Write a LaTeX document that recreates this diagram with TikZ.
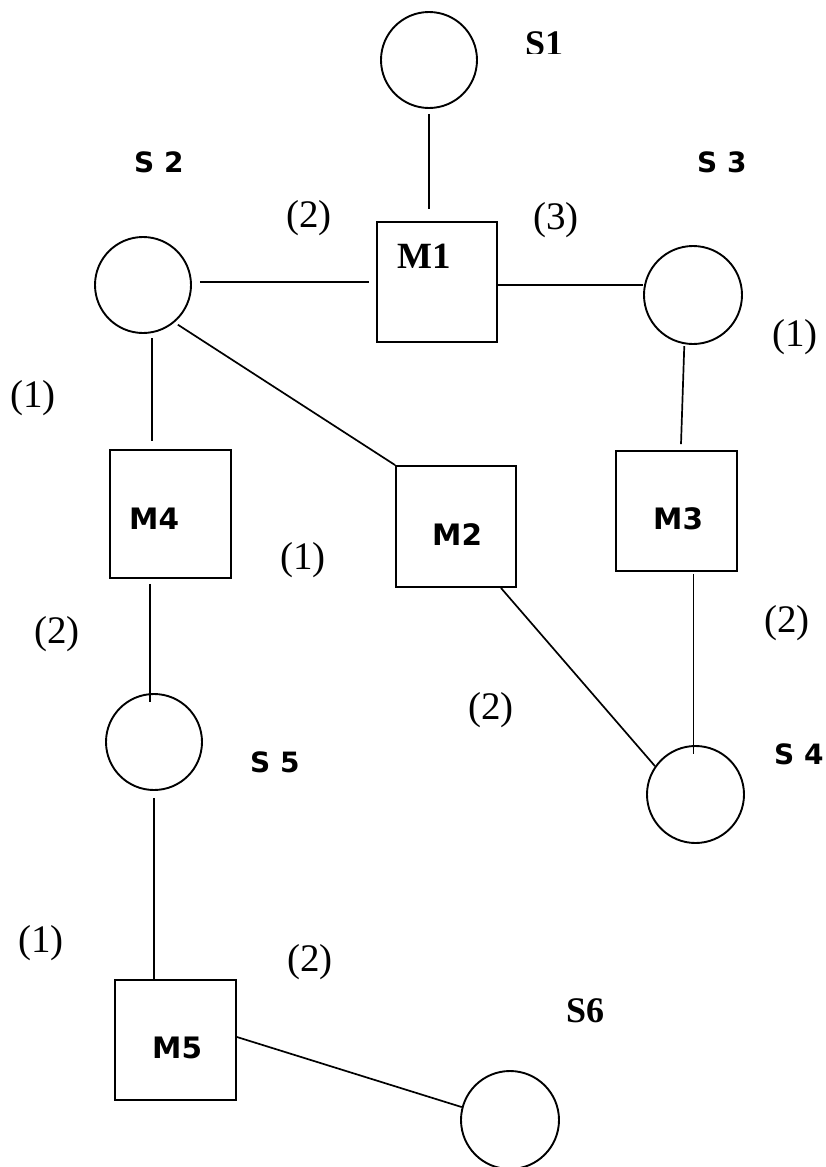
\documentclass[tikz,border=0pt]{standalone}
\usepackage{fontspec}
\setmainfont{Liberation Serif}
\newfontfamily\dvs{DejaVu Sans}
\usetikzlibrary{calc}
\tikzset{
  sta/.style={circle,draw,line width=1.9pt,inner sep=0pt},
  mach/.style={rectangle,draw,line width=1.9pt,inner sep=0pt},
  conn/.style={line width=1.7pt},
  slab/.style={inner sep=0pt,anchor=base west,font=\dvs\bfseries\fontsize{28}{30}\selectfont},
  mlab/.style={inner sep=0pt,anchor=base west,font=\dvs\bfseries\fontsize{29.5}{32}\selectfont},
  serlab/.style={inner sep=0pt,anchor=base west,font=\bfseries\fontsize{36}{38}\selectfont},
  num/.style={inner sep=0pt,anchor=center,font=\fontsize{39}{42}\selectfont}
}
\begin{document}
\begin{tikzpicture}[x=1pt,y=-1pt]
\useasboundingbox (0,0) rectangle (826,1167);
\fill[white] (0,0) rectangle (826,1167);
% stations
\node[sta,minimum size=96pt] (S1) at (429,60) {};
\node[sta,minimum size=96pt] (S2) at (143,285) {};
\node[sta,minimum size=98pt] (S3) at (693,295) {};
\node[sta,minimum size=97pt] (S4) at (695.5,794.5) {};
\node[sta,minimum size=96pt] (S5) at (154,742) {};
\node[sta,minimum size=98pt] (S6) at (510,1120) {};
% machines
\node[mach,minimum width=120pt,minimum height=120pt] (M1) at (437,282) {};
\node[mach,minimum width=120pt,minimum height=121pt] (M2) at (456,526.5) {};
\node[mach,minimum width=121pt,minimum height=120pt] (M3) at (676.5,511) {};
\node[mach,minimum width=121pt,minimum height=128pt] (M4) at (170.5,514) {};
\node[mach,minimum width=121pt,minimum height=120pt] (M5) at (175.5,1040) {};
% machine labels
\node[serlab,font=\bfseries\fontsize{37}{38}\selectfont] (tM1) at (397,268) {M1};
\node[mlab] (tM2) at (432,545) {M2};
\node[mlab] (tM3) at (653,529) {M3};
\node[mlab] (tM4) at (129,529) {M4};
\node[mlab] (tM5) at (152,1058) {M5};
% station labels
\begin{scope}
\clip (500,0) rectangle (620,53.5);
\node[serlab] (tS1) at (525,55.5) {S1};
\end{scope}
\node[slab] (tS2) at (134,172) {S 2};
\node[slab] (tS3) at (697,172) {S 3};
\node[slab] (tS4) at (774,764) {S 4};
\node[slab] (tS5) at (250,772) {S 5};
\node[serlab] (tS6) at (566,1022.5) {S6};
% numbers
\node[num] (n1) at (309,218) {(2)};
\node[num] (n2) at (556,220) {(3)};
\node[num] (n3) at (795,337) {(1)};
\node[num] (n4) at (33,398) {(1)};
\node[num] (n5) at (303,560) {(1)};
\node[num] (n6) at (57,634) {(2)};
\node[num] (n7) at (787,623) {(2)};
\node[num] (n8) at (491,710) {(2)};
\node[num] (n9) at (41,943) {(1)};
\node[num] (n10) at (310,962) {(2)};
% connectors
\draw[conn,shorten <=5pt,shorten >=12pt] (S1.south) -- (S1.south |- M1.north);
\draw[conn,shorten <=8pt,shorten >=7pt] ([yshift=3pt]S2.east) -- ([yshift=3pt]S2.east -| M1.west);
\draw[conn] ([yshift=-3pt]M1.east) -- ([yshift=-3pt]M1.east -| S3.west);
\draw[conn,shorten <=2pt] (S3.-100) -- ([xshift=4.5pt,yshift=6pt]M3.north);
\draw[conn,shorten <=5pt,shorten >=8pt] ([xshift=0.5pt]S2.-80) -- ([xshift=0.5pt]S2.-80 |- M4.north);
\draw[conn,shorten <=5pt,shorten >=-9pt] ([xshift=-4pt]S5.north |- M4.south) -- ([xshift=-4pt]S5.north);
\draw[conn,shorten <=7pt] (S5.south) -- (S5.south |- M5.north);
\draw[conn] ([yshift=3pt]M5.east) -- (S6.165);
\draw[conn,shorten <=4pt] (S2.-50) -- (M2.north west);
\draw[conn] ([xshift=-16pt]M2.south east) -- (S4.145);
\draw[conn,shorten <=2pt,shorten >=-9pt] ([xshift=-2pt]S4.north |- M3.south) -- ([xshift=-2pt]S4.north);
\end{tikzpicture}
\end{document}
